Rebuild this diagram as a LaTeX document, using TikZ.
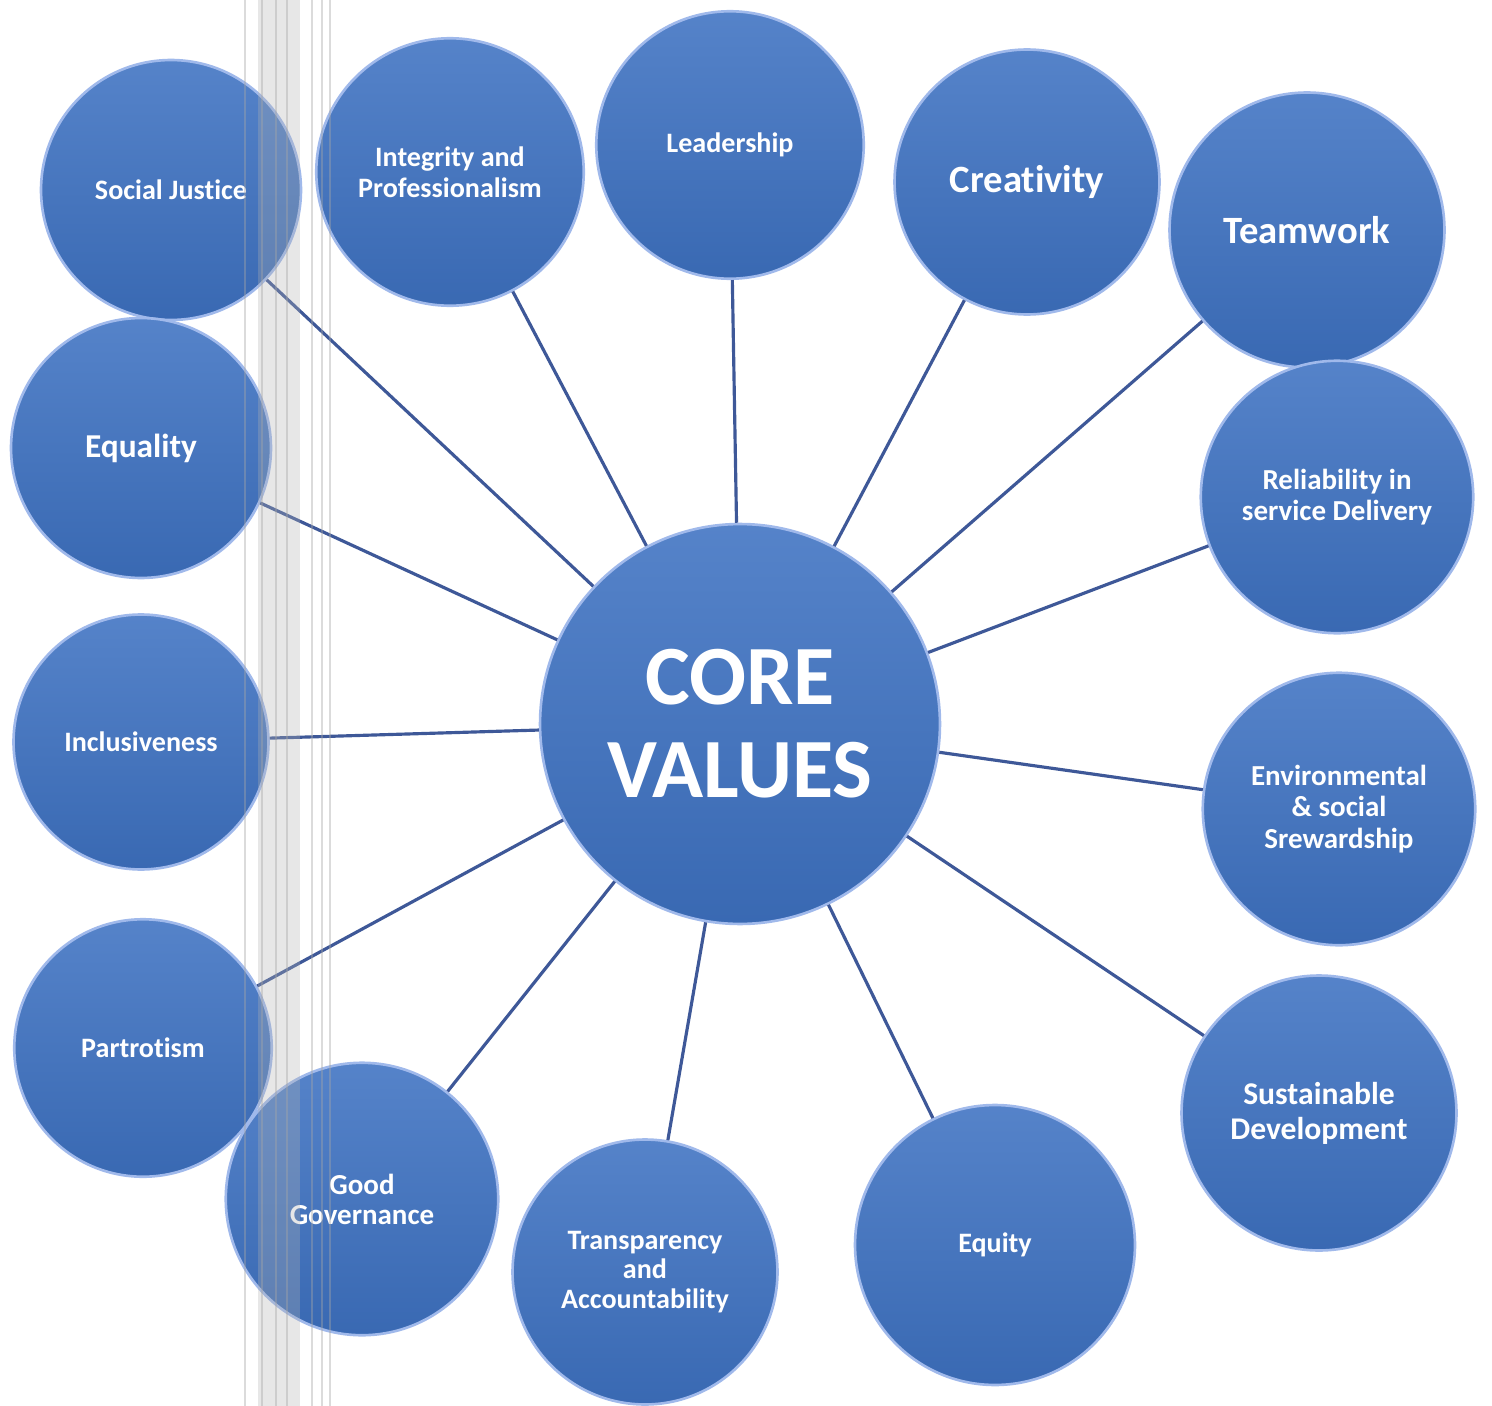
\documentclass[tikz,border=0pt]{standalone}
\usepackage{fontspec}
\setmainfont{Carlito}[Ligatures=NoCommon]
\definecolor{cvblue}{RGB}{62,114,194}
\definecolor{cvrim}{RGB}{160,185,235}
\definecolor{cvline}{RGB}{62,88,152}

\begin{document}
\begin{tikzpicture}[x=0.02cm, y=-0.02cm,
    value/.style={circle, draw=cvrim, line width=1.5pt, top color=cvblue!88!white, bottom color=cvblue!92!black,
      text=white, align=center, inner sep=0pt, font=\bfseries\fontsize{16}{17.5}\selectfont},
    link/.style={cvline, line width=1.8pt}]
  \fill[white] (0,0) rectangle (1492,1406);
  \useasboundingbox (0,0) rectangle (1492,1406);
  \node[value, minimum size=8cm, font=\bfseries\fontsize{48}{53}\selectfont] (core) at (740,724) {CORE\\VALUES};
  \node[value, minimum size=5.2cm] (just) at (171,190) {Social Justice};
  \node[value, minimum size=5.35cm] (integ) at (450,172) {Integrity and\\Professionalism};
  \node[value, minimum size=5.35cm] (lead) at (730,145) {Leadership};
  \node[value, minimum size=5.3cm, font=\bfseries\fontsize{22}{24}\selectfont] (creat) at (1027,182) {Creativity};
  \node[value, minimum size=5.5cm, font=\bfseries\fontsize{22}{24}\selectfont] (team) at (1307,230) {Teamwork};
  \node[value, minimum size=5.2cm, font=\bfseries\fontsize{19}{21}\selectfont] (equal) at (141,448) {Equality};
  \node[value, minimum size=5.45cm, font=\bfseries\fontsize{16.5}{18}\selectfont] (reli) at (1337,497) {Reliability in\\service Delivery};
  \node[value, minimum size=5.1cm] (incl) at (141,742) {Inclusiveness};
  \node[value, minimum size=5.45cm, font=\bfseries\fontsize{16.5}{18}\selectfont] (env) at (1339,809) {Environmental\\\& social\\Srewardship};
  \node[value, minimum size=5.15cm] (part) at (143,1048) {Partrotism};
  \node[value, minimum size=5.45cm, font=\bfseries\fontsize{16.5}{17}\selectfont] (gov) at (362,1199) {Good\\Governance};
  \node[value, minimum size=5.3cm, font=\bfseries\fontsize{16}{17}\selectfont] (trans) at (645,1272) {Transparency\\and\\Accountability};
  \node[value, minimum size=5.6cm] (equity) at (995,1245) {Equity};
  \node[value, minimum size=5.5cm, font=\bfseries\fontsize{18}{20}\selectfont] (sust) at (1319,1113) {Sustainable\\Development};
  \foreach \v in {just,integ,lead,creat,team,equal,reli,incl,env,part,gov,trans,equity,sust}
    \draw[link] (core) -- (\v);
  \fill[gray!60!white, opacity=0.3] (258,0) rectangle (300,1406);
  \foreach \x in {245,262,276,287,312,322,330}
    \draw[gray!70, opacity=0.4, line width=0.6pt] (\x,0) -- (\x,1406);
\end{tikzpicture}
\end{document}
